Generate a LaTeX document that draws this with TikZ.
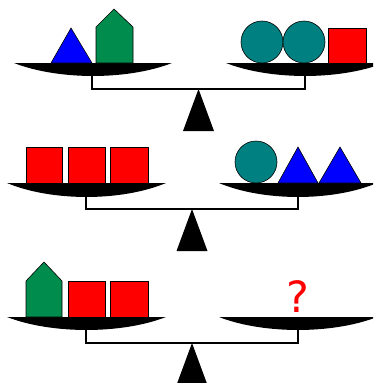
\documentclass[tikz,border=0pt]{standalone}
\usepackage{fontspec}
\setmainfont{DejaVu Sans}
\definecolor{bgreen}{RGB}{0,140,76}
\definecolor{teal2}{RGB}{0,128,128}
\tikzset{
  shp/.style={draw=black, line width=0.6pt, line join=miter},
  beam/.style={draw=black, line width=2.3pt, line join=miter},
}
% pan: left x, right x, top y, depth
\newcommand{\mypan}[4]{\fill (#1,#3) -- (#2,#3) .. controls ({(#1+#2)/2+ (#2-#1)*0.22},{#3+#4*1.33}) and ({(#1+#2)/2-(#2-#1)*0.22},{#3+#4*1.33}) .. (#1,#3) -- cycle;}
\begin{document}
\begin{tikzpicture}[x=1pt,y=-1pt]
\useasboundingbox (0,0) rectangle (373,383);
\clip (0,0) rectangle (373,383);
% ---------- scale 1 ----------
\mypan{14}{172}{63}{13}
\mypan{226}{384}{63}{13}
\draw[beam] (92,70) -- (92,89) -- (305,89) -- (305,70);
\fill (198.5,89) -- (214,131) -- (183,131) -- cycle;
\filldraw[shp, fill=blue] (51,63) -- (71,28) -- (92,63) -- cycle;
\filldraw[shp, fill=bgreen] (96,63) -- (96,27) -- (114,9) -- (133,27) -- (133,63) -- cycle;
\filldraw[shp, fill=teal2] (262,42) circle (21);
\filldraw[shp, fill=teal2] (304,42) circle (21);
\filldraw[shp, fill=red] (328,28) rectangle (366,63);
% ---------- scale 2 ----------
\mypan{7}{166}{183}{14}
\mypan{219}{377}{183}{14}
\draw[beam] (86,190) -- (86,209) -- (298,209) -- (298,190);
\fill (192,209) -- (207.5,251) -- (176.5,251) -- cycle;
\filldraw[shp, fill=red] (26,147) rectangle (62,183);
\filldraw[shp, fill=red] (68,147) rectangle (105,183);
\filldraw[shp, fill=red] (110,147) rectangle (148,183);
\filldraw[shp, fill=teal2] (256,162) circle (21);
\filldraw[shp, fill=blue] (278,183) -- (298,147) -- (318,183) -- cycle;
\filldraw[shp, fill=blue] (319,183) -- (340,147) -- (361,183) -- cycle;
% ---------- scale 3 ----------
\mypan{7}{166}{317}{13}
\mypan{219}{377}{317}{13}
\draw[beam] (86,324) -- (86,343) -- (298,343) -- (298,324);
\fill (192,343) -- (207.5,385) -- (176.5,385) -- cycle;
\filldraw[shp, fill=bgreen] (26,317) -- (26,281) -- (44,262) -- (62,281) -- (62,317) -- cycle;
\filldraw[shp, fill=red] (68,281) rectangle (105,317);
\filldraw[shp, fill=red] (110,281) rectangle (148,317);
\node[text=red, font=\fontsize{43}{43}\selectfont, inner sep=0pt, anchor=base] (q) at (298,312) {?};
\end{tikzpicture}
\end{document}
